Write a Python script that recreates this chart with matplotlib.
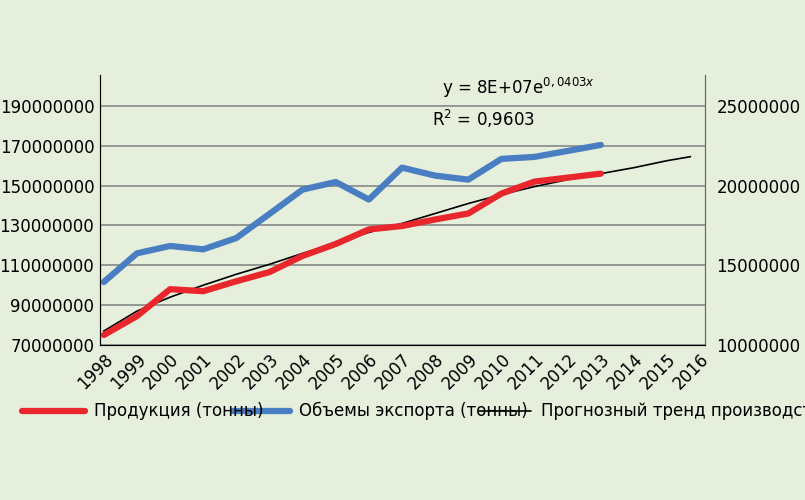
import matplotlib.pyplot as plt

plt.rcParams['font.family'] = ['Liberation Sans Narrow', 'DejaVu Sans']

years = list(range(1998, 2014))
production = [75, 84.5, 98, 97, 102, 106.6, 114.7, 120.7, 128, 129.7, 133, 136, 146, 152, 154, 156]
export = [101.6, 116, 119.7, 118, 123.7, 135.8, 148, 151.8, 143, 159, 155, 153, 163.4, 164.4, 167.4, 170.4]
trend_x = [1998, 1999, 2000, 2001, 2002, 2003, 2004, 2005, 2006, 2007, 2008, 2009, 2010, 2011, 2012, 2013, 2014, 2015, 2015.7]
trend_y = [77, 87, 94, 100, 105.5, 110.5, 116, 121, 126.5, 131, 136, 141, 145.5, 149.5, 153, 156, 159, 162.5, 164.5]
left_ticks = [70, 90, 110, 130, 150, 170, 190]
right_ticks = [10, 15, 20, 25]
x_ticks = list(range(1998, 2017))

bg = '#e5efdb'
fig = plt.figure(figsize=(8.05, 5), dpi=100, facecolor=bg)
ax = fig.add_axes([0.124, 0.31, 0.752, 0.54], facecolor=bg)
m = 1e6
ax.plot(trend_x, [v * m for v in trend_y], color='black', lw=1.2, zorder=3)
ax.plot(years, [v * m for v in export], color='#4a7ec2', lw=4.5, solid_capstyle='round', zorder=4)
ax.plot(years, [v * m for v in production], color='#e8262c', lw=4.5, solid_capstyle='round', zorder=5)

ax.set_xlim(1997.88, 2016.15)
ax.set_ylim(70 * m, 205.5 * m)
ax.set_yticks([v * m for v in left_ticks])
ax.set_yticklabels([str(v * 1000000) for v in left_ticks], fontsize=12)
ax.set_xticks(x_ticks)
ax.set_xticklabels([str(v) for v in x_ticks], rotation=45, fontsize=12,
                   ha='right', rotation_mode='anchor')
ax.grid(axis='y', color='#888888', lw=1.2)
ax.spines['top'].set_visible(False)
for s in ['left', 'right', 'bottom']:
    ax.spines[s].set_color('#666666')
ax.tick_params(length=0, pad=4)

ax2 = ax.twinx()
ax2.set_ylim(10 * m, 10 * m + (205.5 - 70) / 8 * m)
ax2.set_yticks([v * m for v in right_ticks])
ax2.set_yticklabels([str(v * 1000000) for v in right_ticks], fontsize=12)
ax2.tick_params(length=0, pad=8)
ax2.spines['top'].set_visible(False)
ax2.spines['right'].set_color('#666666')

ax.text(2008.2, 196 * m, r'y = 8E+07e$^{0,0403x}$', fontsize=12)
ax.text(2007.9, 180 * m, r'R$^2$ = 0,9603', fontsize=12)

# legend drawn by hand to match spacing
legend_items = [('#e8262c', 4.5, 0.027, 0.105, 'Продукция (тонны)'),
                ('#4a7ec2', 4.5, 0.29, 0.36, 'Объемы экспорта (тонны)'),
                ('black', 1.2, 0.595, 0.66, 'Прогнозный тренд производства')]
for color, lw, x0, x1, label in legend_items:
    fig.add_artist(plt.Line2D([x0, x1], [0.178, 0.178], color=color, lw=lw,
                              solid_capstyle='round', transform=fig.transFigure))
    fig.text(x1 + 0.012, 0.178, label, fontsize=12, va='center')

fig.savefig('out.png', facecolor=bg)
